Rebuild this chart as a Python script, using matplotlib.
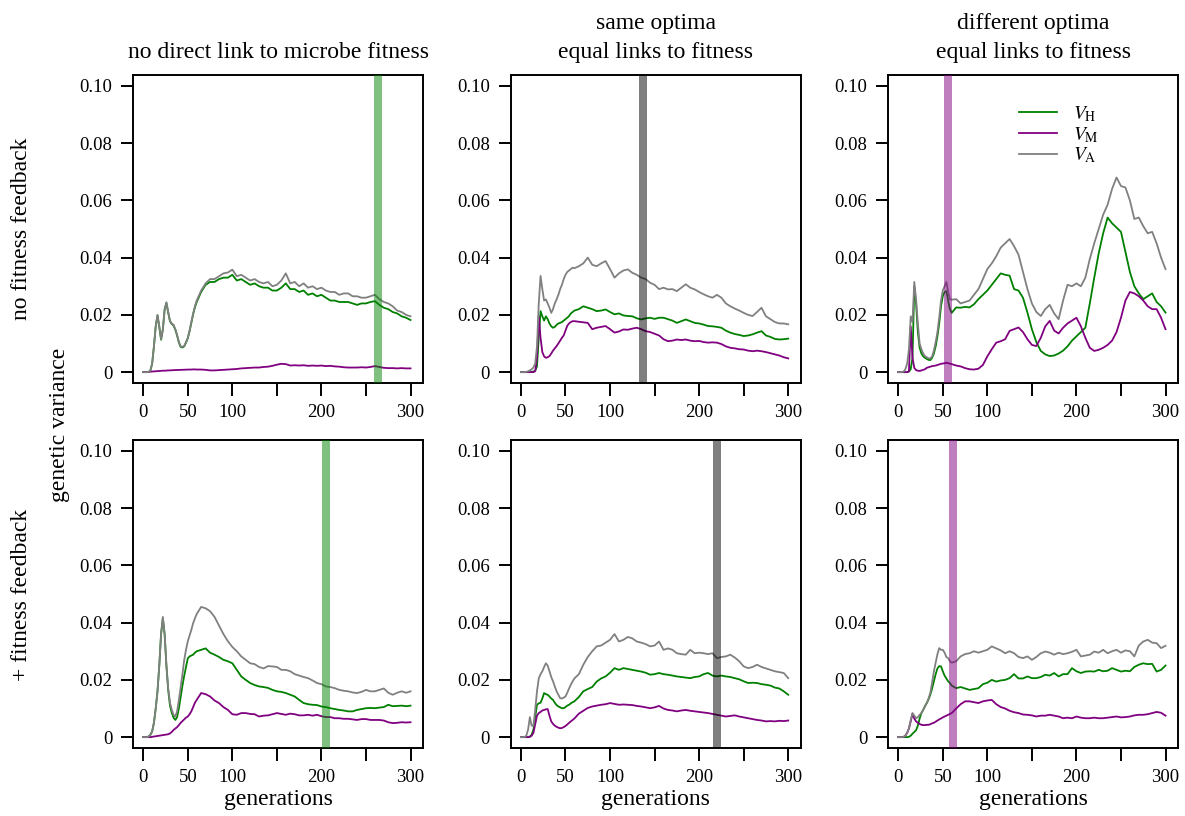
import numpy as np
import matplotlib
matplotlib.use("Agg")
import matplotlib.pyplot as plt

plt.rcParams["font.family"] = ["Liberation Serif", "DejaVu Serif"]
plt.rcParams["mathtext.fontset"] = "stix"

# generations sampled: every 2 up to 60, then every 5
gens = list(range(0, 61, 2)) + list(range(65, 301, 5))

# genetic variance, in units of 1e-3
# top row: no fitness feedback
vh_top1 = [0, 0, 0, 0.1, 0.5, 3, 9, 16, 19.8, 15.8, 11.3, 14.8, 21.8, 24.2, 20.8, 17.8, 16.8, 16.3, 14.8, 12.8,
           10.3, 8.8, 8.6, 9, 10.3, 11.8, 14.3, 17.3, 20.2, 22.6, 24.5,
           28, 30.5, 31.5, 31.5, 32.5, 33, 33, 34, 32, 32.5, 31.5, 30.5, 31, 30, 29.5, 29.5,
           28.5, 28.5, 29.5, 31, 29, 29, 28, 28.5, 27, 27.5, 26.5, 27, 26, 25, 25, 24.5,
           24.5, 24.5, 24, 23.5, 24, 24, 24.5, 24.8, 23.5, 22.5, 22, 21, 20.5, 19.5, 19, 18.2]
vm_top1 = [0, 0, 0.05, 0.1, 0.15, 0.2, 0.25, 0.3, 0.35, 0.4, 0.45, 0.5, 0.5, 0.55, 0.6, 0.6, 0.65, 0.7, 0.7, 0.75,
           0.75, 0.8, 0.8, 0.85, 0.85, 0.9, 0.9, 0.9, 0.95, 0.95, 0.9,
           0.9, 0.8, 0.6, 0.6, 0.7, 0.8, 0.9, 1.0, 1.1, 1.3, 1.4, 1.5, 1.6, 1.6, 1.8, 1.9,
           2.2, 2.6, 2.9, 2.8, 2.3, 2.4, 2.3, 2.4, 2.2, 2.3, 2.2, 2.3, 2.1, 2.2, 2.0, 1.9,
           1.7, 1.6, 1.6, 1.6, 1.7, 1.6, 1.8, 2.1, 1.8, 1.5, 1.4, 1.4, 1.3, 1.4, 1.3, 1.3]
va_top1 = [0, 0, 0, 0.1, 0.5, 3, 9, 16, 20, 16, 11.5, 15, 22, 24.4, 21, 18, 17, 16.5, 15, 13,
           10.5, 9, 8.8, 9.2, 10.5, 12, 14.5, 17.5, 20.5, 23, 25,
           28.5, 31, 32.5, 32.5, 33.5, 34.5, 34.8, 35.8, 33.5, 34, 33, 32, 32.5, 31.5, 31, 31.5,
           30, 30.5, 32, 34.5, 31, 31.5, 30, 31, 29.5, 30, 29, 29.5, 28.5, 28, 28, 27,
           27.5, 27.5, 26.5, 26.5, 26, 26, 26.5, 27, 25.5, 24.5, 24, 23, 21.5, 21, 20, 19.5]

vh_top2 = [0, 0, 0, 0, 0, 0, 0.1, 0.2, 0.5, 2, 12, 21.3, 19.5, 18, 19.5, 18.5, 17, 16, 15.5, 15.8,
           16.5, 17, 17.2, 17.5, 18, 18.5, 19, 19.6, 20.5, 21, 21.5,
           22, 23, 22.5, 22, 21.3, 21.5, 21.9, 21, 20.2, 20.5, 19.8, 19.6, 19.5, 18.8, 18.4, 18.8,
           19, 18.6, 19, 19, 18.5, 18, 17.2, 17.8, 18.4, 17.8, 17.2, 17, 16.6, 16.1, 16, 15.8,
           15.5, 14.5, 13.8, 13.3, 13, 12.6, 12.8, 13.2, 13.8, 14.3, 12.8, 12.3, 11.6, 11.4, 11.5, 11.7]
vm_top2 = [0, 0, 0, 0, 0, 0, 0, 0, 0.3, 5, 19.5, 12, 7, 5.5, 5, 5.2, 5.6, 6.5, 7.5, 8.3,
           9.1, 10, 11, 12, 12.8, 14.5, 16.2, 17, 17.5, 17.8, 17.8,
           17.6, 17.4, 17.2, 15, 15.5, 15.8, 16.1, 15, 13.8, 14.2, 14.9, 14.8, 15.2, 15.5, 15, 14.3,
           14, 13.4, 12.8, 11.5, 10.8, 11, 11.4, 11.2, 11.4, 11, 10.8, 10.9, 10.5, 10.3, 10.4, 10.3,
           9.8, 9, 8.5, 8.3, 8, 7.9, 7.5, 7.3, 7.5, 7.3, 7, 6.6, 6.2, 5.8, 5.2, 4.8]
va_top2 = [0, 0, 0, 0.1, 0.3, 0.6, 1, 1.6, 3, 9, 24, 33.6, 29, 25, 25.4, 24, 22.5, 20.7, 22, 24,
           25.4, 27, 29, 30.5, 32.5, 34, 35, 35.5, 36, 36.5, 36.3,
           37, 38, 40, 37.5, 37, 38, 38.8, 36, 33, 34.5, 35.5, 35.9, 34.7, 34, 33, 32.5,
           31.2, 30.5, 29, 29.5, 28.9, 29, 28.3, 29.5, 30.7, 29.5, 28.9, 28, 27.2, 26.5, 26, 27,
           26, 24, 23, 22.2, 21.5, 20.7, 20, 19.6, 21, 22.5, 19.5, 18.5, 17.5, 17, 17, 16.7]

vh_top3 = [0, 0, 0, 0, 0, 0, 0.2, 1, 5, 30, 24, 14, 8.5, 6.5, 5.5, 5, 4.6, 4.3, 4.2, 5,
           6.5, 9, 12.5, 17, 23, 26.5, 28, 28.3, 25, 22, 20.7,
           22.6, 22.5, 22.8, 22.6, 23.7, 25.5, 27, 28.5, 30.5, 32.5, 34.5, 34, 33.7, 29, 28.5, 26,
           20.8, 15, 10.5, 7.4, 6.2, 5.6, 5.8, 6.5, 7.5, 9, 11, 12.5, 14, 15.5, 24, 33,
           41.5, 48.5, 54, 52, 50.5, 49, 42, 35, 30, 27.5, 25.5, 26.5, 27.5, 24.5, 23, 20.8]
vm_top3 = [0, 0, 0, 0, 0, 0, 0.3, 16, 5, 1.5, 0.7, 0.5, 0.4, 0.6, 0.8, 1, 1.5, 1.7, 1.9, 2.1,
           2.2, 2.3, 2.5, 2.7, 2.9, 3, 3.1, 3.3, 3.1, 3, 2.8,
           2.3, 2, 1.4, 1, 0.9, 1.2, 2.5, 5.5, 8, 10.3, 10.8, 11.5, 14.4, 15, 15.6, 14,
           11.5, 9.5, 9.1, 12, 16, 17.9, 14.5, 13.5, 15.5, 17, 18, 19, 16, 12, 8.5, 7.4,
           7.8, 8.5, 9.5, 11, 14, 19, 25, 28, 27.5, 26.5, 25, 23, 22, 22, 19, 15]
va_top3 = [0, 0, 0, 0.2, 1, 3, 8, 19.5, 17.5, 31.5, 25.5, 17, 10, 8, 6.5, 5.6, 5.2, 4.8, 4.8, 5.5,
           7.5, 10.5, 14, 19, 25, 28.5, 30, 31.5, 28, 25.5, 25.3,
           25.5, 24, 24.5, 25, 27, 29, 32.5, 36, 38, 40.5, 43.5, 45, 46.5, 44, 41, 35,
           29, 24, 21, 19.6, 22, 23.5, 20.5, 18.5, 25, 30.5, 30, 31, 30, 33, 39.5, 45,
           50, 55, 58.5, 64, 68, 65, 64.5, 60, 53.5, 54, 51, 48.5, 49, 45, 40, 36]

# bottom row: + fitness feedback
vh_bot1 = [0, 0, 0, 0.2, 0.8, 2, 5, 10, 16, 25, 36, 41.5, 36, 25, 16.5, 11, 8.5, 6.8, 6, 7,
           10, 14, 18, 21.5, 24.5, 27.5, 28.2, 28.5, 28.8, 29.5, 30,
           30.5, 31, 29.5, 28.8, 28, 27, 26.5, 25.8, 23.5, 21.2, 20, 18.9, 18.2, 17.7, 17.5, 17.2,
           16.5, 16, 15.8, 15.4, 14.8, 14.2, 13, 11.9, 11.5, 11.3, 11.2, 10.7, 10.5, 10.1, 9.8, 9.5,
           9.3, 9, 9, 9.5, 9.8, 10.1, 10.2, 10.1, 10.3, 10.5, 11.3, 10.8, 10.9, 11, 10.8, 11]
vm_bot1 = [0, 0, 0, 0, 0, 0.1, 0.2, 0.3, 0.4, 0.5, 0.6, 0.7, 0.8, 0.9, 1, 1.3, 1.8, 2.5, 3, 3.5,
           4.2, 5, 5.6, 6.2, 6.8, 7.2, 8, 9, 10.5, 12, 13,
           15.4, 15, 14.2, 12.8, 11.9, 10.5, 9.5, 8, 7.8, 8.4, 8.4, 8.1, 8, 7.2, 7.5, 7.6,
           8, 8.4, 8.1, 7.8, 8.2, 8, 7.6, 7.6, 7.8, 7.5, 7.8, 7.3, 7, 7, 6.6, 6.6,
           6.4, 6.4, 6.2, 6, 6.3, 6.3, 6, 6, 6, 5.8, 5.2, 4.9, 5, 5.2, 5.1, 5.2]
va_bot1 = [0, 0, 0, 0.2, 0.8, 2, 5, 10, 16, 25, 36, 42, 36, 25, 17, 12, 9.5, 7.8, 7.2, 9,
           13, 17.5, 22, 27, 30.5, 33.5, 35.5, 37.5, 39.8, 41.5, 43,
           45.5, 45, 44, 42, 39, 36, 33.5, 31.5, 30, 28.2, 27, 25.8, 25.5, 24.5, 24, 24.8,
           24.7, 24.5, 23.5, 23.5, 23, 22, 21.5, 21, 20.6, 19.8, 18.9, 18.5, 17.7, 17.5, 17.1, 16.5,
           16.2, 16, 15.6, 15.4, 15.8, 16.5, 16, 16, 16.5, 17, 15.5, 14.8, 15.5, 16, 15.5, 16]

vh_bot2 = [0, 0, 0, 0, 0, 0.2, 0.8, 2.6, 7, 11.3, 11.8, 12, 13.5, 15.4, 15, 14.8, 14.2, 13.5, 13, 12,
           11.2, 10.7, 10.4, 10.1, 10.1, 10.5, 11, 11.3, 11.8, 12.2, 12.5,
           14, 16, 16.8, 17.5, 19.4, 20.5, 21.2, 22.5, 24.1, 23.5, 24.1, 23.8, 23.5, 23.2, 22.9, 22.5,
           21.8, 22, 22.4, 22, 21.8, 21.5, 21.2, 21, 20.8, 20.6, 21, 21.2, 22, 22.4, 21.5, 21.2,
           21.5, 21.2, 21, 20.6, 20.2, 19.5, 18.9, 19, 18.9, 18.5, 18.3, 18, 17.3, 17, 16, 14.8]
vm_bot2 = [0, 0, 0, 0, 0, 0.1, 0.5, 1.5, 4.5, 7.5, 8.4, 8.8, 9.3, 9.5, 9.7, 9.8, 7.5, 5.5, 4.6, 4,
           3.6, 3.3, 3.1, 3.2, 3.5, 3.9, 4.4, 5, 5.5, 6, 6.5,
           8.2, 9.2, 10.2, 10.7, 11, 11.3, 11.5, 11.9, 11.6, 11.3, 11.4, 11.3, 11.2, 10.9, 10.7, 10.4,
           10.1, 10.4, 10.9, 10, 9.5, 9.3, 9, 9.3, 9.5, 9.2, 9, 8.8, 8.6, 8.4, 8.1, 7.8,
           7.5, 7.2, 7.4, 7.6, 7.2, 6.9, 6.6, 6.3, 6, 5.8, 5.5, 5.6, 5.5, 5.7, 5.6, 5.8]
va_bot2 = [0, 0, 0, 0.5, 2.6, 7, 4, 4, 9.5, 16, 20.5, 22, 23, 24.5, 25.8, 25, 23, 21, 19.5, 17.7,
           16, 14.8, 13.6, 13.5, 13.8, 14.2, 15.5, 17, 18.3, 19.5, 20.5,
           22, 25.3, 28, 30, 31.7, 32, 33, 34, 36, 33.4, 34, 35, 34.5, 33.4, 33, 32.5,
           31.7, 32, 33.4, 30.5, 31, 30.5, 29.3, 29, 28.8, 30.5, 29.3, 29.5, 29.3, 29, 29.3, 27.6,
           28, 28.2, 28.8, 27.8, 26.5, 24.7, 24.1, 24.5, 25.3, 24.5, 24, 23.5, 23, 22.7, 22.4, 20.6]

vh_bot3 = [0, 0, 0, 0, 0, 0, 0.1, 0.5, 1.2, 1.8, 2.4, 4, 6.5, 8.4, 9.5, 10.8, 11.9, 13.2, 14.8, 17,
           19.5, 22, 24, 24.8, 24.7, 23, 21.5, 20.5, 19.5, 18.9, 18,
           17.1, 17.5, 17, 16.5, 16.8, 17.1, 18.5, 19, 20, 19.4, 19.8, 20, 20.6, 22, 20.5, 20.5,
           21.2, 20.6, 20.6, 21, 21.8, 21.5, 22.4, 21.2, 22, 22, 24.1, 23, 22.4, 22.9, 23, 22.9,
           23.5, 23, 23.2, 24.1, 23.5, 22.9, 23.2, 23, 24.5, 25.3, 25.8, 25.5, 25.6, 22.9, 23.5, 25]
vm_bot3 = [0, 0, 0, 0.1, 0.5, 1.5, 3, 5.5, 8.2, 6.5, 5.5, 5, 4.6, 4.3, 4.2, 4.2, 4.3, 4.3, 4.5, 4.8,
           5, 5.4, 5.8, 6.2, 6.5, 6.9, 7.2, 7.5, 7.8, 8.1, 8.4,
           10, 11.5, 12.5, 12.5, 12.2, 11.9, 12.5, 12.8, 13, 11.5, 10.5, 10, 9.2, 8.7, 8.4, 7.9,
           7.8, 7.6, 7.2, 7.5, 7.5, 7.8, 7.5, 7.2, 6.6, 6.8, 6.6, 7.2, 6.8, 6.6, 6.6, 6.8,
           6.6, 6.6, 6.8, 7, 7.2, 6.9, 7, 7.2, 7.6, 7.8, 7.8, 8, 8.4, 8.8, 8.5, 7.5]
va_bot3 = [0, 0, 0, 0.1, 0.5, 1.5, 3, 6, 8.4, 7.5, 6.6, 7, 7.8, 8.4, 9.5, 10.8, 11.9, 13.5, 15.5, 19,
           23, 26, 29, 31.1, 30.5, 30.5, 29.5, 28, 27.6, 26.5, 26,
           26.5, 28.2, 29, 29.3, 30, 29.5, 30, 30.5, 31.7, 31, 30.3, 29.3, 30, 29.3, 28, 27.6,
           28.2, 27, 28, 29.3, 29.9, 29.5, 28.8, 29.5, 29, 29.3, 29.8, 30.5, 28.2, 28.5, 28.8, 29.9,
           29.5, 30.5, 29.3, 30, 30.5, 29.5, 30.3, 30, 28.2, 32, 33.4, 34, 33, 32.8, 31.1, 31.9]

# generation marked by the shaded bar in each panel
bar_gen = [264, 137, 55.5, 205, 220.5, 61.5]

col_titles = ["no direct link to microbe fitness",
              "same optima\nequal links to fitness",
              "different optima\nequal links to fitness"]
row_titles = ["no fitness feedback", "+ fitness feedback"]

c_h, c_m, c_a = "#008000", "#800080", "#808080"
bar_colors = [c_h, "black", c_m]

series = [
    [(vh_top1, vm_top1, va_top1), (vh_top2, vm_top2, va_top2), (vh_top3, vm_top3, va_top3)],
    [(vh_bot1, vm_bot1, va_bot1), (vh_bot2, vm_bot2, va_bot2), (vh_bot3, vm_bot3, va_bot3)],
]

W, H = 1185, 816
fig = plt.figure(figsize=(W / 100, H / 100), dpi=100)

lefts = [133, 510.7, 888]
tops = [75, 440]
aw, ah = 290, 308

axes = []
for r in range(2):
    for c in range(3):
        ax = fig.add_axes([lefts[c] / W, 1 - (tops[r] + ah) / H, aw / W, ah / H])
        vh, vm, va = series[r][c]
        x = np.array(gens)
        ax.plot(x, np.array(vh) * 1e-3, color=c_h, lw=1.3, label=r"$V_{\mathrm{H}}$")
        ax.plot(x, np.array(vm) * 1e-3, color=c_m, lw=1.3, label=r"$V_{\mathrm{M}}$")
        ax.plot(x, np.array(va) * 1e-3, color=c_a, lw=1.3, label=r"$V_{\mathrm{A}}$")
        g = bar_gen[r * 3 + c]
        ax.axvspan(g - 4.5, g + 4.5, color=bar_colors[c], alpha=0.5, lw=0, zorder=5)

        ax.set_xlim(-11.5, 314)
        ax.set_ylim(-0.0038, 0.1038)
        ax.set_xticks([0, 50, 100, 150, 200, 250, 300])
        ax.set_xticklabels(["0", "50", "100", "", "200", "", "300"])
        ax.set_yticks([0, 0.02, 0.04, 0.06, 0.08, 0.10])
        ax.set_yticklabels(["0", "0.02", "0.04", "0.06", "0.08", "0.10"])
        ax.tick_params(direction="out", length=9, width=1.4, labelsize=13.5, pad=6)
        for sp in ax.spines.values():
            sp.set_linewidth(1.4)
        if r == 1:
            ax.set_xlabel("generations", fontsize=17, labelpad=2)
        axes.append(ax)

leg = axes[2].legend(loc="upper left", bbox_to_anchor=(0.45, 0.905), frameon=False,
                     fontsize=14, handlelength=2.0, handletextpad=0.8, labelspacing=0.05,
                     borderpad=0, borderaxespad=0)

centers = [(lefts[c] + aw / 2) / W for c in range(3)]
fig.text(centers[0], 1 - 53 / H, col_titles[0], ha="center", va="center", fontsize=17)
for c in (1, 2):
    fig.text(centers[c], 1 - 38 / H, col_titles[c], ha="center", va="center", fontsize=17,
             linespacing=1.45)

fig.text(22 / W, 1 - 229 / H, row_titles[0], rotation=90, ha="center", va="center", fontsize=17)
fig.text(22 / W, 1 - 595 / H, row_titles[1], rotation=90, ha="center", va="center", fontsize=17)
fig.text(60 / W, 1 - 425 / H, "genetic variance", rotation=90, ha="center", va="center", fontsize=17)

fig.savefig("out.png", dpi=100)
